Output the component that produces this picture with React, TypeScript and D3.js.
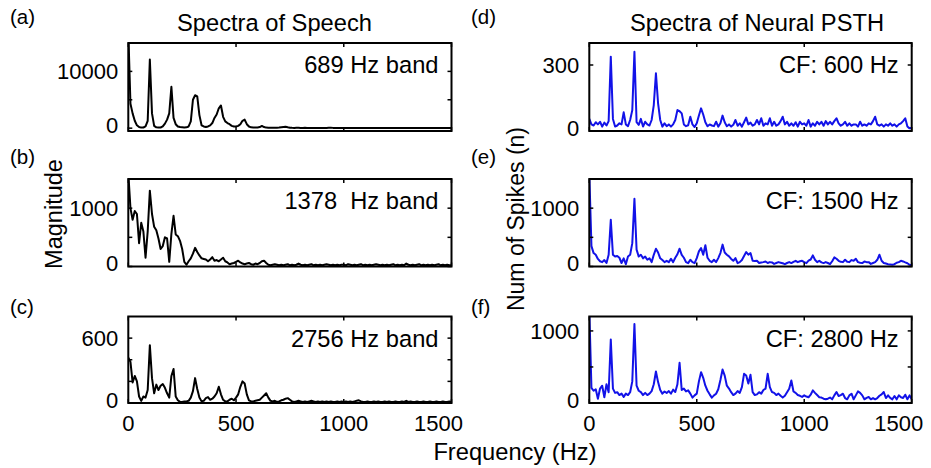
import React from "react";
import * as d3 from "d3";

const FONT = "'Liberation Sans', Arial, Helvetica, sans-serif";

// Frequency grid (Hz) shared by all spectra
const freqHz: number[] = d3.range(0, 1501, 10);
const xTickValues = [0, 500, 1000, 1500];

// (a) Speech spectrum, 689 Hz band
const speech689 = [
  17000, 4300, 2600, 1300, 500, 200, 100, 120, 300, 1300,
  12100, 2600, 400, 150, 100, 120, 300, 800, 1500, 2600,
  7300, 1800, 700, 300, 200, 150, 100, 150, 300, 1200,
  5000, 5800, 5600, 2300, 500, 300, 200, 300, 500, 900,
  1800, 2400, 3500, 4000, 2000, 1200, 900, 700, 400, 300,
  300, 400, 700, 1300, 1500, 700, 300, 150, 100, 100,
  120, 200, 400, 200, 100, 80, 70, 80, 60, 70,
  100, 150, 200, 250, 150, 80, 60, 50, 70, 60,
  50, 40, 60, 50, 40, 50, 40, 30, 50, 40,
  30, 40, 30, 60, 80, 50, 30, 40, 30, 20,
  30, 40, 30, 50, 40, 30, 20, 30, 20, 30,
  40, 30, 20, 30, 20, 30, 40, 20, 30, 20,
  30, 20, 30, 40, 20, 30, 20, 30, 40, 20,
  30, 20, 30, 20, 40, 30, 20, 30, 20, 30,
  20, 30, 40, 20, 30, 20, 30, 20, 30, 20,
  20,
];

// (b) Speech spectrum, 1378 Hz band
const speech1378 = [
  1600, 1000, 800, 950, 900, 400, 750, 600, 150, 600,
  1300, 900, 680, 620, 480, 300, 350, 500, 480, 80,
  560, 870, 550, 520, 440, 300, 80, 30, 90, 140,
  220, 320, 250, 190, 140, 130, 120, 90, 120, 160,
  100, 110, 90, 120, 150, 90, 70, 40, 50, 60,
  80, 100, 70, 50, 40, 50, 60, 40, 30, 50,
  40, 60, 90, 100, 60, 30, 20, 30, 40, 30,
  20, 30, 20, 30, 40, 20, 30, 20, 30, 50,
  30, 20, 30, 20, 30, 40, 20, 30, 20, 30,
  20, 30, 40, 30, 20, 30, 20, 30, 20, 30,
  30, 20, 40, 30, 20, 30, 20, 30, 40, 20,
  30, 20, 30, 20, 30, 40, 30, 20, 30, 20,
  30, 20, 30, 40, 20, 30, 20, 30, 20, 50,
  30, 20, 30, 20, 30, 40, 20, 30, 20, 30,
  20, 30, 20, 30, 40, 20, 30, 20, 30, 20,
  20,
];

// (c) Speech spectrum, 2756 Hz band
const speech2756 = [
  420, 380, 190, 250, 200, 60, 20, 60, 50, 120,
  535, 230, 90, 170, 120, 160, 175, 140, 90, 50,
  250, 315, 60, 25, 10, 10, 15, 15, 20, 50,
  110, 230, 130, 50, 15, 20, 45, 55, 30, 40,
  60, 90, 150, 80, 30, 15, 15, 30, 40, 25,
  50, 80, 150, 200, 180, 80, 25, 15, 15, 20,
  25, 30, 50, 70, 90, 50, 20, 15, 20, 10,
  15, 25, 30, 40, 45, 30, 15, 10, 15, 20,
  15, 10, 15, 10, 15, 20, 15, 10, 15, 10,
  15, 10, 15, 10, 15, 10, 10, 15, 10, 15,
  10, 15, 10, 15, 10, 15, 20, 25, 15, 10,
  10, 15, 10, 10, 15, 10, 15, 10, 10, 15,
  10, 15, 10, 10, 15, 10, 10, 15, 10, 20,
  10, 15, 10, 10, 15, 10, 10, 15, 10, 10,
  15, 10, 10, 15, 10, 10, 15, 10, 10, 15,
  10,
];

// (d) Neural PSTH spectrum, CF 600 Hz
const psth600 = [
  55, 30, 25, 40, 30, 42, 20, 38, 25, 45,
  338, 55, 20, 25, 35, 30, 85, 30, 22, 50,
  95, 360, 40, 28, 55, 20, 42, 30, 25, 50,
  118, 262, 126, 50, 20, 35, 22, 30, 20, 30,
  50, 95, 90, 80, 30, 22, 26, 65, 30, 18,
  35, 70, 103, 75, 40, 22, 30, 25, 22, 42,
  20, 35, 70, 40, 22, 30, 20, 28, 50, 24,
  35, 20, 40, 61, 30, 38, 24, 30, 50, 30,
  58, 24, 35, 30, 58, 24, 42, 24, 30, 45,
  65, 30, 42, 24, 35, 24, 40, 20, 42, 30,
  35, 24, 50, 20, 35, 24, 42, 30, 42, 24,
  45, 30, 42, 30, 45, 58, 35, 24, 30, 42,
  24, 35, 24, 30, 30, 20, 42, 24, 30, 24,
  35, 30, 45, 65, 30, 24, 30, 20, 30, 24,
  35, 24, 30, 20, 30, 35, 45, 58, 20, 12,
  15,
];

// (e) Neural PSTH spectrum, CF 1500 Hz
const psth1500 = [
  1600, 350, 230, 200, 130, 90, 75, 110, 60, 200,
  800, 200, 170, 180, 150, 60, 140, 40, 170, 200,
  400, 1160, 290, 170, 200, 140, 170, 115, 140, 75,
  200, 305, 240, 140, 110, 75, 98, 75, 133, 75,
  150, 210, 305, 200, 150, 75, 58, 115, 75, 58,
  144, 260, 317, 202, 364, 150, 98, 75, 115, 75,
  144, 231, 375, 240, 202, 173, 130, 98, 144, 58,
  75, 110, 180, 248, 202, 231, 100, 95, 98, 60,
  70, 75, 85, 60, 75, 70, 45, 60, 75, 65,
  55, 40, 60, 75, 58, 80, 98, 75, 90, 98,
  75, 58, 100, 120, 190, 115, 75, 98, 70, 58,
  75, 60, 40, 90, 156, 133, 98, 80, 75, 115,
  80, 75, 110, 98, 133, 75, 65, 58, 85, 75,
  75, 45, 60, 75, 115, 202, 98, 60, 50, 40,
  35, 30, 40, 65, 75, 98, 87, 70, 55, 30,
  25,
];

// (f) Neural PSTH spectrum, CF 2800 Hz
const psth2800 = [
  1300, 210, 170, 190, 60, 200, 240, 80, 260, 150,
  880, 200, 140, 150, 110, 130, 85, 130, 110, 150,
  300, 1095, 240, 170, 150, 110, 140, 110, 130, 165,
  260, 437, 290, 180, 130, 160, 140, 165, 130, 185,
  152, 260, 557, 180, 200, 160, 175, 130, 75, 106,
  130, 300, 428, 350, 240, 170, 120, 75, 106, 129,
  190, 320, 465, 380, 240, 200, 150, 110, 130, 165,
  140, 220, 405, 382, 270, 391, 150, 110, 120, 150,
  130, 180, 200, 405, 221, 152, 140, 110, 130, 100,
  75, 100, 150, 198, 313, 160, 140, 110, 100, 85,
  106, 90, 80, 115, 175, 140, 110, 80, 75, 60,
  51, 60, 75, 51, 106, 152, 97, 110, 129, 69,
  51, 106, 129, 51, 106, 161, 140, 106, 51, 70,
  83, 51, 69, 51, 69, 100, 120, 152, 69, 106,
  70, 51, 97, 51, 106, 80, 69, 115, 51, 106,
  51,
];

const BLACK = "#000000";
const BLUE = "#1212e8";

type Panel = {
  id: string;
  tag: string;
  note: string;
  values: number[];
  color: string;
  left: number;
  right: number;
  top: number;
  bottom: number;
  yDomain: [number, number];
  yTicks: number[];
  yLabels: number[];
  showX: boolean;
  tagX: number;
  tagY: number;
};

const L = { left: 128.3, right: 451.5 };
const R = { left: 589.3, right: 911.7 };
const ROW1 = { top: 43, bottom: 131 };
const ROW2 = { top: 179, bottom: 266.5 };
const ROW3 = { top: 316.5, bottom: 403 };

const panels: Panel[] = [
  { id: "a", tag: "(a)", note: "689 Hz band", values: speech689, color: BLACK, ...L, ...ROW1, yDomain: [-500, 15000], yTicks: [0, 5000, 10000], yLabels: [0, 10000], showX: false, tagX: 10, tagY: 24 },
  { id: "b", tag: "(b)", note: "1378  Hz band", values: speech1378, color: BLACK, ...L, ...ROW2, yDomain: [0, 1500], yTicks: [0, 500, 1000], yLabels: [0, 1000], showX: false, tagX: 10, tagY: 164 },
  { id: "c", tag: "(c)", note: "2756 Hz band", values: speech2756, color: BLACK, ...L, ...ROW3, yDomain: [0, 800], yTicks: [0, 200, 400, 600], yLabels: [0, 600], showX: true, tagX: 10, tagY: 314 },
  { id: "d", tag: "(d)", note: "CF: 600 Hz", values: psth600, color: BLUE, ...R, ...ROW1, yDomain: [0, 400], yTicks: [0, 300], yLabels: [0, 300], showX: false, tagX: 471, tagY: 24 },
  { id: "e", tag: "(e)", note: "CF: 1500 Hz", values: psth1500, color: BLUE, ...R, ...ROW2, yDomain: [0, 1500], yTicks: [0, 500, 1000], yLabels: [0, 1000], showX: false, tagX: 471, tagY: 164 },
  { id: "f", tag: "(f)", note: "CF: 2800 Hz", values: psth2800, color: BLUE, ...R, ...ROW3, yDomain: [0, 1200], yTicks: [0, 500, 1000], yLabels: [0, 1000], showX: true, tagX: 471, tagY: 314 },
];

const TICK = 4;

function PanelView({ p }: { p: Panel }) {
  const x = d3.scaleLinear().domain([0, 1500]).range([p.left, p.right]);
  const y = d3.scaleLinear().domain(p.yDomain).range([p.bottom, p.top]);
  const line = d3
    .line<number>()
    .x((_, i) => x(freqHz[i]))
    .y((d) => y(d));
  const clipId = `clip-${p.id}`;
  return (
    <g>
      <defs>
        <clipPath id={clipId}>
          <rect x={p.left} y={p.top} width={p.right - p.left} height={p.bottom - p.top} />
        </clipPath>
      </defs>
      <path
        d={line(p.values) || ""}
        fill="none"
        stroke={p.color}
        strokeWidth={2}
        strokeLinejoin="round"
        clipPath={`url(#${clipId})`}
      />
      {/* ticks */}
      {xTickValues.map((t) => (
        <g key={`xt${t}`}>
          <line x1={x(t)} x2={x(t)} y1={p.bottom} y2={p.bottom - TICK} stroke="#000" strokeWidth={1.5} />
          <line x1={x(t)} x2={x(t)} y1={p.top} y2={p.top + TICK} stroke="#000" strokeWidth={1.5} />
        </g>
      ))}
      {p.yTicks.map((t) => (
        <g key={`yt${t}`}>
          <line x1={p.left} x2={p.left + TICK} y1={y(t)} y2={y(t)} stroke="#000" strokeWidth={1.5} />
          <line x1={p.right} x2={p.right - TICK} y1={y(t)} y2={y(t)} stroke="#000" strokeWidth={1.5} />
        </g>
      ))}
      <rect
        x={p.left}
        y={p.top}
        width={p.right - p.left}
        height={p.bottom - p.top}
        fill="none"
        stroke="#000"
        strokeWidth={2}
      />
      {p.yLabels.map((t) => (
        <text
          key={`yl${t}`}
          x={p.left - 10}
          y={y(t) - (t === 0 ? 3 : 0)}
          dy="0.35em"
          textAnchor="end"
          fontSize={22}
          fontFamily={FONT}
          fill="#000"
        >
          {t}
        </text>
      ))}
      {p.showX &&
        xTickValues.map((t, i) => (
          <text
            key={`xl${t}`}
            x={x(t) + (i === xTickValues.length - 1 ? -13 : 0)}
            y={p.bottom + 28}
            textAnchor="middle"
            fontSize={22}
            fontFamily={FONT}
            fill="#000"
          >
            {t}
          </text>
        ))}
      <text
        x={p.right - 13}
        y={p.top + 30}
        textAnchor="end"
        fontSize={23.7}
        fontFamily={FONT}
        fill="#000"
        style={{ whiteSpace: "pre" }}
      >
        {p.note}
      </text>
      <text x={p.tagX} y={p.tagY} fontSize={20.5} fontFamily={FONT} fill="#000">
        {p.tag}
      </text>
    </g>
  );
}

export default function App() {
  return (
    <svg
      width={931}
      height={468}
      viewBox="0 0 931 468"
      style={{ position: "absolute", left: 0, top: 0, background: "#fff" }}
    >
      <rect x={0} y={0} width={931} height={468} fill="#fff" />
      {panels.map((p) => (
        <PanelView key={p.id} p={p} />
      ))}
      <text x={274.5} y={31} textAnchor="middle" fontSize={23.7} fontFamily={FONT} fill="#000">
        Spectra of Speech
      </text>
      <text x={757} y={31} textAnchor="middle" fontSize={23.7} fontFamily={FONT} fill="#000">
        Spectra of Neural PSTH
      </text>
      <text x={515} y={460} textAnchor="middle" fontSize={23.7} fontFamily={FONT} fill="#000">
        Frequency (Hz)
      </text>
      <text
        transform="translate(62,214) rotate(-90)"
        textAnchor="middle"
        fontSize={23.5}
        fontFamily={FONT}
        fill="#000"
      >
        Magnitude
      </text>
      <text
        transform="translate(524,219) rotate(-90)"
        textAnchor="middle"
        fontSize={23}
        fontFamily={FONT}
        fill="#000"
      >
        Num of Spikes (n)
      </text>
    </svg>
  );
}
